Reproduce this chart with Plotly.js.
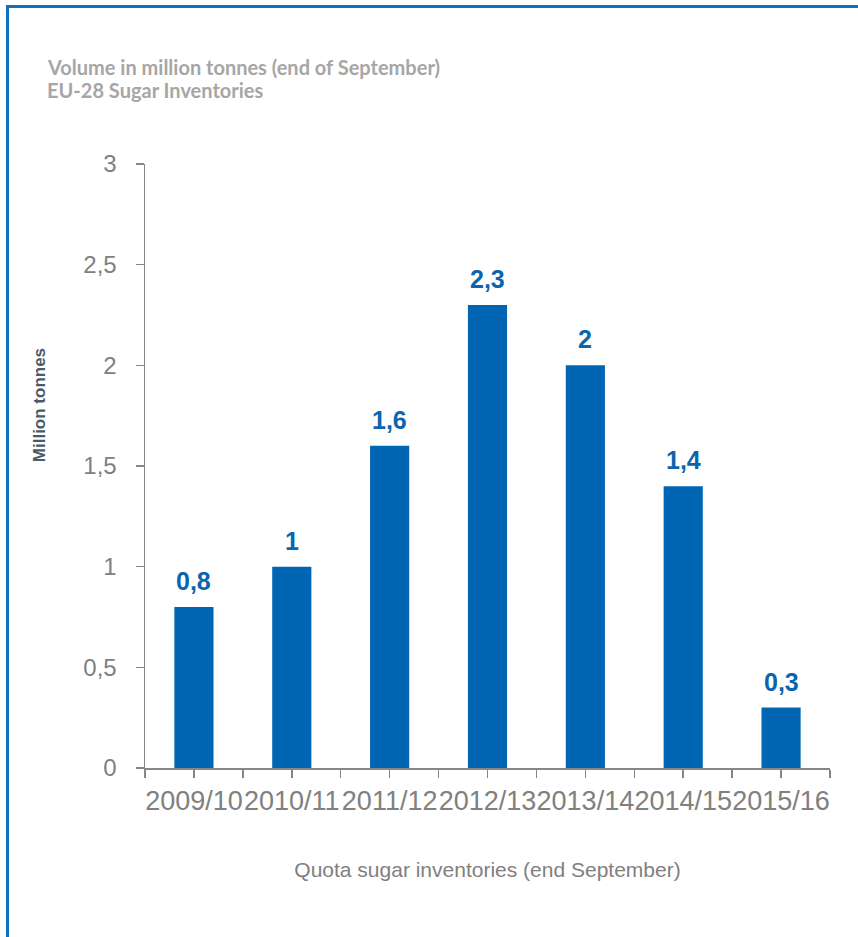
<!DOCTYPE html>
<html>
<head>
<meta charset="utf-8">
<script src="https://cdn.plot.ly/plotly-3.0.1.min.js"></script>
<style>
  html, body { margin: 0; padding: 0; background: #ffffff; }
  #wrap { position: relative; width: 858px; height: 937px; }
  #chart { width: 858px; height: 937px; }
  #frame { position: absolute; left: 6px; top: 5px; right: 0; bottom: 0;
           border-top: 3px solid #0f70c2; border-left: 3px solid #0f70c2; pointer-events: none; }
</style>
</head>
<body>
<div id="wrap">
  <div id="chart"></div>
  <div id="frame"></div>
</div>
<script>
// Data
const categories = ["2009/10", "2010/11", "2011/12", "2012/13", "2013/14", "2014/15", "2015/16"];
const inventories = [0.8, 1.0, 1.6, 2.3, 2.0, 1.4, 0.3];
const yTickVals = [0, 0.5, 1, 1.5, 2, 2.5, 3];
const yTickText = ["0", "0,5", "1", "1,5", "2", "2,5", "3"];
const titleLines = ["Volume in million tonnes (end of September)", "EU-28 Sugar Inventories"];
const yTitle = "Million tonnes";
const xTitle = "Quota sugar inventories (end September)";

const xIdx = categories.map((c, i) => i);
const fmt = v => String(v).replace('.', ',');

// ticks at category centres and boundaries
const xTickVals = [];
const xTickText = [];
categories.forEach((c, i) => {
  xTickVals.push(i - 0.5); xTickText.push('');
  xTickVals.push(i); xTickText.push(c);
});
xTickVals.push(categories.length - 0.5); xTickText.push('');

const trace = {
  type: 'bar',
  x: xIdx,
  y: inventories,
  width: 0.4,
  marker: { color: '#0066b3', line: { width: 0 } },
  hoverinfo: 'skip'
};

const labelAnnotations = xIdx.map((x, i) => ({
  x: x, y: inventories[i], xref: 'x', yref: 'y',
  text: '<b>' + fmt(inventories[i]) + '</b>',
  showarrow: false, yanchor: 'bottom', yshift: 10,
  font: { family: 'Liberation Sans, Arial, sans-serif', size: 25, color: '#0b64ae' }
}));

const titleAnnotations = [
  { text: '<b>' + titleLines[0] + '</b>', x: -0.1465, y: 1.160 },
  { text: '<b>' + titleLines[1] + '</b>', x: -0.1465, y: 1.122 }
].map(a => Object.assign(a, {
  xref: 'paper', yref: 'paper', xanchor: 'left', yanchor: 'middle', showarrow: false,
  font: { family: 'Lato, "Open Sans", sans-serif', size: 20, color: '#a6a6a6' }
}));

const yTitleAnnotation = {
  text: '<b>' + yTitle + '</b>', x: -0.153, y: 0.601, xref: 'paper', yref: 'paper',
  xanchor: 'center', yanchor: 'middle', textangle: -90, showarrow: false,
  font: { family: 'Liberation Sans, Arial, sans-serif', size: 17, color: '#4b5a69' }
};

const layout = {
  width: 858, height: 937,
  margin: { l: 145, r: 28, t: 164, b: 169 },
  paper_bgcolor: '#ffffff', plot_bgcolor: '#ffffff',
  showlegend: false,
  xaxis: {
    range: [-0.5, categories.length - 0.5],
    tickmode: 'array', tickvals: xTickVals, ticktext: xTickText,
    ticks: 'outside', ticklen: 8, tickwidth: 1.5, tickcolor: '#868686',
    showline: true, linecolor: '#868686', linewidth: 1.5,
    showgrid: false, zeroline: false, fixedrange: true,
    tickangle: 0,
    tickfont: { family: 'Liberation Sans, Arial, sans-serif', size: 27, color: '#808080' },
    title: { text: xTitle, standoff: 47,
             font: { family: 'Liberation Sans, Arial, sans-serif', size: 21, color: '#808080' } }
  },
  yaxis: {
    range: [0, 3],
    tickmode: 'array', tickvals: yTickVals, ticktext: yTickText,
    ticks: 'outside', ticklen: 8, tickwidth: 1.5, tickcolor: '#868686',
    ticklabelstandoff: 14,
    showline: true, linecolor: '#868686', linewidth: 1.5,
    showgrid: false, zeroline: false, fixedrange: true,
    tickfont: { family: 'Liberation Sans, Arial, sans-serif', size: 24, color: '#808080' }
  },
  annotations: titleAnnotations.concat([yTitleAnnotation]).concat(labelAnnotations)
};

Plotly.newPlot('chart', [trace], layout, { displayModeBar: false, staticPlot: true });
</script>
</body>
</html>
